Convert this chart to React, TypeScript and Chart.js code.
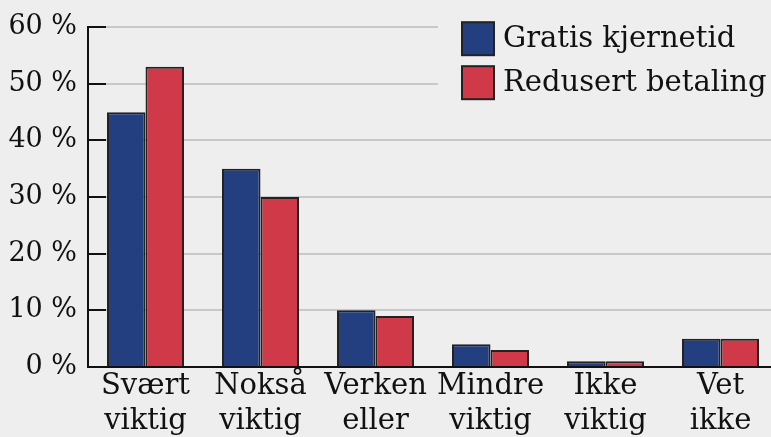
import React, { useEffect, useRef } from "react";
import { Chart, registerables } from "chart.js";

Chart.register(...registerables);

const categories: string[][] = [
  ["Svært", "viktig"],
  ["Nokså", "viktig"],
  ["Verken", "eller"],
  ["Mindre", "viktig"],
  ["Ikke", "viktig"],
  ["Vet", "ikke"],
];
const seriesNames = ["Gratis kjernetid", "Redusert betaling"];
const gratisKjernetid = [45, 35, 10, 4, 1, 5];
const redusertBetaling = [53, 30, 9, 3, 1, 5];
const yTickValues = [0, 10, 20, 30, 40, 50, 60];

const BG = "#eeeeee";
const BLUE = "#233f80";
const RED = "#d03a48";
const EDGE = "#222222";
const FONT = "'DejaVu Serif', serif";
const FS = 29;
const FS_Y = 27;

const W = 790;
const H = 470;

export default function App() {
  const ref = useRef<HTMLCanvasElement | null>(null);

  useEffect(() => {
    document.body.style.margin = "0";
    document.body.style.background = BG;
    document.body.style.overflow = "hidden";
    const canvas = ref.current;
    if (!canvas) return;

    const insideTicks = {
      id: "insideTicks",
      afterDraw(chart: any) {
        const { ctx, chartArea } = chart;
        const y = chart.scales.y;
        ctx.save();
        ctx.strokeStyle = "#111";
        ctx.lineWidth = 2;
        for (const v of yTickValues) {
          const py = Math.round(y.getPixelForValue(v));
          ctx.beginPath();
          ctx.moveTo(chartArea.left, py);
          ctx.lineTo(chartArea.left + 18, py);
          ctx.stroke();
        }
        ctx.restore();
      },
    };

    const legendBox = {
      id: "legendBox",
      afterDraw(chart: any) {
        const { ctx, chartArea } = chart;
        const left = chartArea.left + 350;
        ctx.save();
        ctx.fillStyle = BG;
        ctx.fillRect(left, chartArea.top - 15, chart.width - left, 125);
        const colors = [BLUE, RED];
        ctx.font = `${FS}px ${FONT}`;
        ctx.textBaseline = "alphabetic";
        ctx.textAlign = "left";
        seriesNames.forEach((name, i) => {
          const bx = left + 24;
          const by = chartArea.top - 5 + i * 44;
          ctx.fillStyle = colors[i];
          ctx.fillRect(bx, by, 32, 33);
          ctx.strokeStyle = EDGE;
          ctx.lineWidth = 2;
          ctx.strokeRect(bx, by, 32, 33);
          ctx.fillStyle = "#111";
          ctx.fillText(name, bx + 41, by + 25);
        });
        ctx.restore();
      },
    };

    const chart = new Chart(canvas, {
      type: "bar",
      data: {
        labels: categories,
        datasets: [
          {
            label: seriesNames[0],
            data: gratisKjernetid,
            backgroundColor: BLUE,
            borderColor: EDGE,
            borderWidth: 2,
            categoryPercentage: 0.67,
            barPercentage: 1,
          },
          {
            label: seriesNames[1],
            data: redusertBetaling,
            backgroundColor: RED,
            borderColor: EDGE,
            borderWidth: 2,
            categoryPercentage: 0.67,
            barPercentage: 1,
          },
        ],
      },
      options: {
        responsive: false,
        animation: false,
        devicePixelRatio: 1,
        layout: { padding: { top: 27, right: 12, left: 0, bottom: 0 } },
        plugins: {
          legend: { display: false },
          tooltip: { enabled: false },
        },
        scales: {
          x: {
            grid: { display: false, drawTicks: false },
            border: { display: true, color: "#111", width: 2 },
            ticks: {
              color: "#111",
              font: { family: FONT, size: FS, lineHeight: 1.2 },
              padding: 2,
              maxRotation: 0,
              autoSkip: false,
            },
            afterFit: (s: any) => {
              s.height = H - 367;
            },
          },
          y: {
            min: 0,
            max: 60,
            grid: { color: "#c8c8c8", lineWidth: 2, drawTicks: false },
            border: { display: true, color: "#111", width: 2 },
            ticks: {
              stepSize: 10,
              color: "#111",
              font: { family: FONT, size: FS_Y },
              padding: 11,
              callback: (v: any) => `${v} %`,
            },
            afterFit: (s: any) => {
              s.width = 88;
            },
          },
        },
      },
      plugins: [insideTicks, legendBox],
    });
    return () => chart.destroy();
  }, []);

  return (
    <div style={{ width: W, height: H, background: BG }}>
      <canvas ref={ref} width={W} height={H} style={{ display: "block" }} />
    </div>
  );
}
